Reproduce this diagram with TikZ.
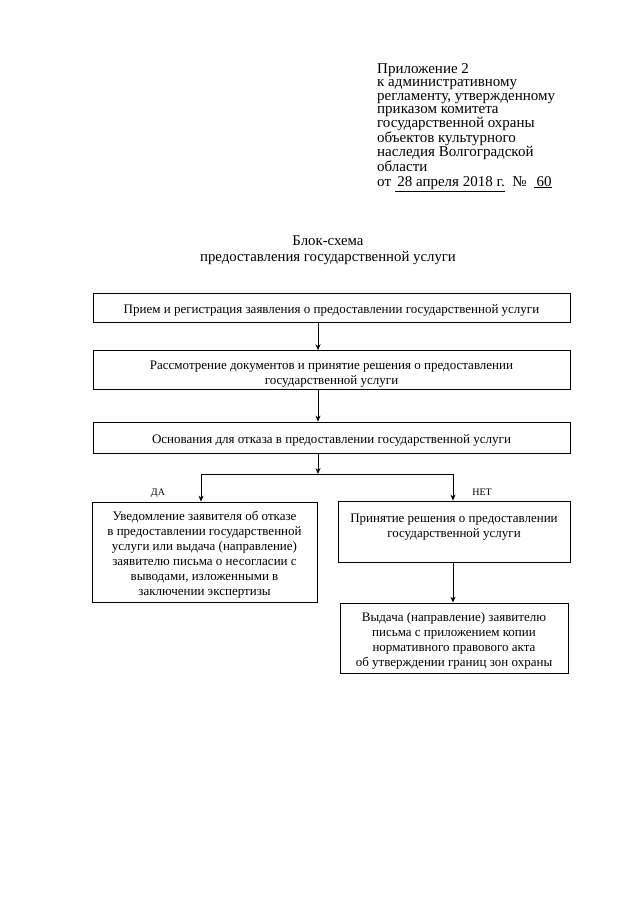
\documentclass[tikz,border=0pt]{standalone}
\usepackage{fontspec}
\setmainfont{Liberation Serif}
\usetikzlibrary{arrows.meta}
\newcommand\dnstrut[1]{\rule{0pt}{#1pt}}
\begin{document}
\begin{tikzpicture}[x=1pt,y=-1pt,
  box/.style={draw, line width=0.8pt, inner sep=2pt, align=center, font=\fontsize{13}{15}\selectfont},
  arr/.style={line width=0.8pt, -{Stealth[length=6pt,width=5pt]}},
  conn/.style={line width=0.8pt},
  lbl/.style={font=\fontsize{10}{12}\selectfont, inner sep=0pt},
  hdr/.style={align=left, anchor=north west, inner sep=0pt, font=\fontsize{15}{13.6}\selectfont}]
\useasboundingbox (0,0) rectangle (640,905);
\fill[white] (0,0) rectangle (640,905);

\node[hdr] (hd) at (377,63) {Приложение 2\\к административному\\регламенту, утвержденному\\приказом комитета\\государственной охраны\\объектов культурного\\наследия Волгоградской\\области\\[1.5pt]от \underline{\,28 апреля 2018 г.}\ \ №\ \ \underline{\,60}};

\node[align=center, inner sep=0pt, font=\fontsize{14.8}{16.5}\selectfont] (title) at (328,250) {Блок-схема\\предоставления государственной услуги};

\node[box, minimum width=477, minimum height=29] (b1) at (331.5,307.5) {\dnstrut{14}Прием и регистрация заявления о предоставлении государственной услуги};
\node[box, minimum width=477, minimum height=38] (b2) at (331.5,370) {\dnstrut{17}Рассмотрение документов и принятие решения о предоставлении\\государственной услуги};
\node[box, minimum width=477, minimum height=31] (b3) at (331.5,437.5) {\dnstrut{14}Основания для отказа в предоставлении государственной услуги};
\node[box, minimum width=225, minimum height=100] (b4) at (204.5,552) {\dnstrut{14}Уведомление заявителя об отказе\\в предоставлении государственной\\услуги или выдача (направление)\\заявителю письма о несогласии с\\выводами, изложенными в\\заключении экспертизы};
\node[box, minimum width=232, minimum height=61, inner sep=0pt] (b5) at (454,531.5) {\parbox[c][56pt][t]{226pt}{\vspace*{10pt}\centering Принятие решения о предоставлении\\государственной услуги}};
\node[box, minimum width=228, minimum height=70] (b6) at (454,638) {\dnstrut{14}Выдача (направление) заявителю\\письма с приложением копии\\нормативного правового акта\\об утверждении границ зон охраны};

\coordinate (cx) at (318,0);
\coordinate (j) at (318,474);
\coordinate (jl) at (201,474);
\coordinate (jr) at (453,474);

\draw[arr] (b1.south -| cx) -- (b2.north -| cx);
\draw[arr] (b2.south -| cx) -- (b3.north -| cx);
\draw[arr] (b3.south -| cx) -- (j);
\draw[conn] (jl) -- (jr);
\draw[arr] (jl) -- (b4.north -| jl);
\draw[arr] (jr) -- (b5.north -| jr);
\draw[arr] (b5.south -| jr) -- (b6.north -| jr);

\node[lbl] (da) at (158,493) {ДА};
\node[lbl] (net) at (482,492) {НЕТ};
\end{tikzpicture}
\end{document}
